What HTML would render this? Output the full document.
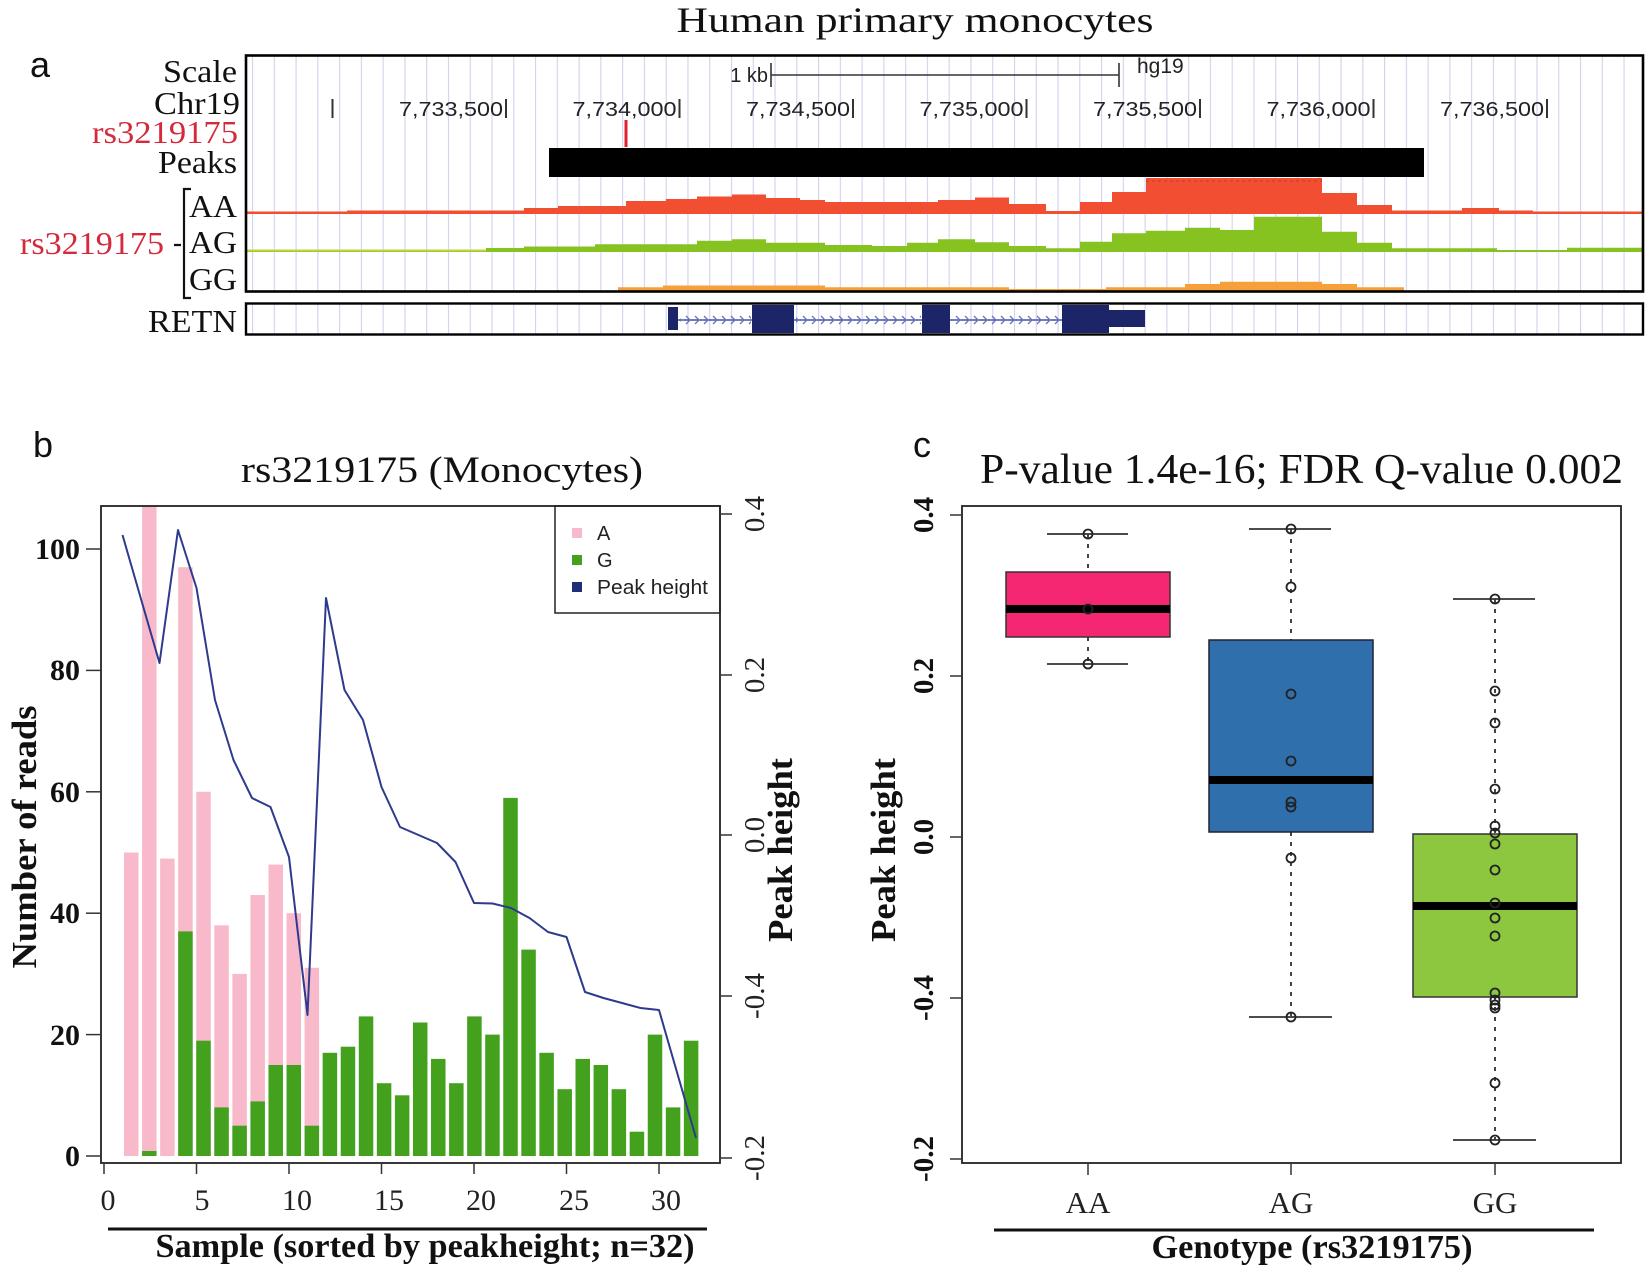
<!DOCTYPE html>
<html><head><meta charset="utf-8"><style>
html,body{margin:0;padding:0;background:#fff;}
svg{display:block;}
.serif{font-family:"Liberation Serif","Times New Roman",serif;}
.sans{font-family:"Liberation Sans",Arial,sans-serif;}
</style></head><body>
<svg width="1650" height="1277" viewBox="0 0 1650 1277" xmlns="http://www.w3.org/2000/svg">
<defs>
<pattern id="grid" patternUnits="userSpaceOnUse" x="252" y="0" width="21.77" height="20">
<rect x="0" y="0" width="1.1" height="20" fill="#cfd3ee"/>
</pattern>
<pattern id="chev" patternUnits="userSpaceOnUse" x="0" y="314" width="9" height="12">
<path d="M2,2 L6,6 L2,10" fill="none" stroke="#6574c0" stroke-width="1.3"/>
</pattern>
<clipPath id="bclip"><rect x="101" y="506" width="619" height="657"/></clipPath>
</defs>
<rect width="1650" height="1277" fill="#fff"/>

<!-- ============ PANEL A ============ -->
<text x="915" y="32" class="serif" font-size="36" text-anchor="middle" textLength="477" lengthAdjust="spacingAndGlyphs" fill="#111">Human primary monocytes</text>
<text x="30" y="77" class="sans" font-size="36" fill="#111">a</text>

<g class="serif" font-size="32" fill="#111">
<text x="163" y="82" textLength="74" lengthAdjust="spacingAndGlyphs">Scale</text>
<text x="154" y="114" textLength="86" lengthAdjust="spacingAndGlyphs">Chr19</text>
<text x="92" y="143" fill="#d42a3c" textLength="146" lengthAdjust="spacingAndGlyphs">rs3219175</text>
<text x="158" y="173" textLength="79" lengthAdjust="spacingAndGlyphs">Peaks</text>
<text x="189" y="217" textLength="48" lengthAdjust="spacingAndGlyphs">AA</text>
<text x="189" y="253" textLength="48" lengthAdjust="spacingAndGlyphs">AG</text>
<text x="189" y="290" textLength="48" lengthAdjust="spacingAndGlyphs">GG</text>
<text x="148" y="332" textLength="89" lengthAdjust="spacingAndGlyphs">RETN</text>
<text x="20" y="254" fill="#d42a3c" textLength="144" lengthAdjust="spacingAndGlyphs">rs3219175</text>
</g>
<path d="M174,245 H181 M191,189 H184 V298 H191" fill="none" stroke="#111" stroke-width="2.2"/>

<!-- grid -->
<rect x="246" y="56" width="1397" height="235" fill="url(#grid)"/>
<rect x="246" y="304" width="1397" height="30" fill="url(#grid)"/>

<!-- scale bar -->
<g stroke="#333" stroke-width="1.6">
<line x1="771" y1="75" x2="1119" y2="75"/>
<line x1="771" y1="63" x2="771" y2="87"/>
<line x1="1119" y1="63" x2="1119" y2="87"/>
</g>
<text x="768" y="82" class="sans" font-size="20" text-anchor="end" fill="#222">1 kb</text>
<text x="1137" y="73" class="sans" font-size="21" fill="#222">hg19</text>

<!-- coordinate ticks -->
<g stroke="#333" stroke-width="2">
<line x1="332.5" y1="99" x2="332.5" y2="118"/>
<line x1="506" y1="99" x2="506" y2="118"/>
<line x1="679.5" y1="99" x2="679.5" y2="118"/>
<line x1="853" y1="99" x2="853" y2="118"/>
<line x1="1026.5" y1="99" x2="1026.5" y2="118"/>
<line x1="1200" y1="99" x2="1200" y2="118"/>
<line x1="1373.5" y1="99" x2="1373.5" y2="118"/>
<line x1="1547" y1="99" x2="1547" y2="118"/>
</g>
<g class="sans" font-size="20" text-anchor="end" fill="#222">
<text x="503" y="116" textLength="104" lengthAdjust="spacingAndGlyphs">7,733,500</text>
<text x="676.5" y="116" textLength="104" lengthAdjust="spacingAndGlyphs">7,734,000</text>
<text x="850" y="116" textLength="104" lengthAdjust="spacingAndGlyphs">7,734,500</text>
<text x="1023.5" y="116" textLength="104" lengthAdjust="spacingAndGlyphs">7,735,000</text>
<text x="1197" y="116" textLength="104" lengthAdjust="spacingAndGlyphs">7,735,500</text>
<text x="1370.5" y="116" textLength="104" lengthAdjust="spacingAndGlyphs">7,736,000</text>
<text x="1544" y="116" textLength="104" lengthAdjust="spacingAndGlyphs">7,736,500</text>
</g>

<!-- SNP tick -->
<rect x="624.5" y="120" width="3" height="27" fill="#e0202e"/>
<!-- Peaks bar -->
<rect x="549" y="148" width="875" height="29" fill="#000"/>

<!-- AA track -->
<path d="M245,214 V211.5 H347 V210.5 H524 V208 H558 V206 H626 V201 H666 V199 H697 V196.5 H732 V194.5 H766 V198 H800 V200 H825 V202 H938 V200 H975 V197.5 H1009 V204 H1046 V211 H1080 V202 H1112 V192 H1146 V178 H1322 V193 H1357 V205 H1392 V210.5 H1462 V208 H1499 V210.5 H1533 V211.5 H1643 V214 Z" fill="#f24e31"/>
<line x1="1146" y1="181" x2="1322" y2="181" stroke="#c93a25" stroke-width="1" stroke-dasharray="3,3"/>
<!-- AG track -->
<path d="M245,252 V249.5 H486 V248 H524 V246.5 H595 V244.3 H697 V240.7 H732 V239.3 H766 V242.7 H825 V245 H872 V246 H907 V242.7 H938 V239.3 H975 V242.3 H1009 V246 H1046 V248.3 H1080 V241.7 H1112 V233.3 H1146 V230.7 H1185 V227.7 H1220 V230 H1254 V216.7 H1322 V231.7 H1357 V242.7 H1392 V248.3 H1497 V250 H1567 V247.7 H1643 V252 Z" fill="#86c320"/>
<rect x="245" y="249.5" width="241" height="2" fill="#bcd640"/>
<!-- GG track -->
<path d="M618,290.5 V287.3 H663 V285.5 H825 V287.3 H1009 V289 H1106 V287.3 H1185 V284 H1220 V281.7 H1322 V284 H1357 V287.3 H1404 V290.5 Z" fill="#f6a03c"/>

<!-- box borders -->
<rect x="246" y="55.5" width="1397" height="236" fill="none" stroke="#000" stroke-width="2.6"/>
<rect x="246" y="303.5" width="1397" height="31" fill="none" stroke="#000" stroke-width="2.4"/>

<!-- RETN gene -->
<line x1="670" y1="320" x2="1145" y2="320" stroke="#4452a0" stroke-width="1.4"/>
<rect x="680" y="314" width="71" height="12" fill="url(#chev)"/>
<rect x="796" y="314" width="125" height="12" fill="url(#chev)"/>
<rect x="952" y="314" width="109" height="12" fill="url(#chev)"/>
<g fill="#1b2568">
<rect x="668" y="307" width="10" height="23"/>
<rect x="752" y="305" width="42" height="28"/>
<rect x="922" y="305" width="28" height="28"/>
<rect x="1062" y="305" width="47" height="28"/>
<rect x="1109" y="310" width="36" height="17"/>
</g>

<!-- ============ PANEL B ============ -->
<text x="33" y="457" class="sans" font-size="36" fill="#111">b</text>
<text x="241" y="482" class="serif" font-size="37" textLength="402" lengthAdjust="spacingAndGlyphs" fill="#111">rs3219175 (Monocytes)</text>

<g clip-path="url(#bclip)">
<g fill="#f8bacb">
<rect x="124" y="852.5" width="14.5" height="303.5"/>
<rect x="142.06" y="500" width="14.5" height="656"/>
<rect x="160.12" y="858.6" width="14.5" height="297.4"/>
<rect x="178.18" y="567.2" width="14.5" height="588.8"/>
<rect x="196.24" y="791.8" width="14.5" height="364.2"/>
<rect x="214.3" y="925.3" width="14.5" height="230.7"/>
<rect x="232.36" y="973.9" width="14.5" height="182.1"/>
<rect x="250.42" y="895" width="14.5" height="261"/>
<rect x="268.48" y="864.6" width="14.5" height="291.4"/>
<rect x="286.54" y="913.2" width="14.5" height="242.8"/>
<rect x="304.6" y="967.8" width="14.5" height="188.2"/>
</g>
<g fill="#43a11e">
<rect x="142.06" y="1151" width="14.5" height="5"/>
<rect x="178.18" y="931.4" width="14.5" height="224.6"/>
<rect x="196.24" y="1040.7" width="14.5" height="115.3"/>
<rect x="214.3" y="1107.4" width="14.5" height="48.6"/>
<rect x="232.36" y="1125.7" width="14.5" height="30.3"/>
<rect x="250.42" y="1101.4" width="14.5" height="54.6"/>
<rect x="268.48" y="1065" width="14.5" height="91"/>
<rect x="286.54" y="1065" width="14.5" height="91"/>
<rect x="304.6" y="1125.7" width="14.5" height="30.3"/>
<rect x="322.66" y="1052.8" width="14.5" height="103.2"/>
<rect x="340.72" y="1046.7" width="14.5" height="109.3"/>
<rect x="358.78" y="1016.4" width="14.5" height="139.6"/>
<rect x="376.84" y="1083.2" width="14.5" height="72.8"/>
<rect x="394.9" y="1095.3" width="14.5" height="60.7"/>
<rect x="412.96" y="1022.5" width="14.5" height="133.5"/>
<rect x="431.02" y="1058.9" width="14.5" height="97.1"/>
<rect x="449.08" y="1083.2" width="14.5" height="72.8"/>
<rect x="467.14" y="1016.4" width="14.5" height="139.6"/>
<rect x="485.2" y="1034.6" width="14.5" height="121.4"/>
<rect x="503.26" y="797.9" width="14.5" height="358.1"/>
<rect x="521.32" y="949.6" width="14.5" height="206.4"/>
<rect x="539.38" y="1052.8" width="14.5" height="103.2"/>
<rect x="557.44" y="1089.2" width="14.5" height="66.8"/>
<rect x="575.5" y="1058.9" width="14.5" height="97.1"/>
<rect x="593.56" y="1065" width="14.5" height="91"/>
<rect x="611.62" y="1089.2" width="14.5" height="66.8"/>
<rect x="629.68" y="1131.7" width="14.5" height="24.3"/>
<rect x="647.74" y="1034.6" width="14.5" height="121.4"/>
<rect x="665.8" y="1107.4" width="14.5" height="48.6"/>
<rect x="683.86" y="1040.7" width="14.5" height="115.3"/>
</g>
<polyline fill="none" stroke="#2e3a8c" stroke-width="2" stroke-linejoin="round" points="122.5,535 141,599 159.5,663 178,530 196.5,588 215,700 233.5,760 252,798 270.5,807 289,857 307.5,1015 326,598 344.5,690 363,720 381.5,787 400,827 418.5,835 437,843 455.5,862 474,903 492.5,903.5 511,908 529.5,918 548,932 566.5,937 585,992 603.5,998 622,1003 640.5,1008 659,1010 677.5,1074 696,1138"/>
</g>

<!-- legend -->
<rect x="555" y="506" width="165" height="107" fill="#fff" stroke="#222" stroke-width="1.5"/>
<rect x="572" y="528" width="10" height="10" fill="#f8bacb"/>
<rect x="572" y="555" width="10" height="10" fill="#43a11e"/>
<rect x="572" y="582" width="10" height="10" fill="#1e2f7a"/>
<g class="sans" font-size="20" fill="#222">
<text x="597" y="540">A</text>
<text x="597" y="567">G</text>
<text x="597" y="594" textLength="111" lengthAdjust="spacingAndGlyphs">Peak height</text>
</g>

<!-- b frame -->
<rect x="101" y="506" width="619" height="657" fill="none" stroke="#222" stroke-width="1.8"/>
<!-- left axis -->
<g stroke="#333" stroke-width="1.5">
<line x1="86" y1="1156" x2="101" y2="1156"/>
<line x1="86" y1="1034.6" x2="101" y2="1034.6"/>
<line x1="86" y1="913.2" x2="101" y2="913.2"/>
<line x1="86" y1="791.8" x2="101" y2="791.8"/>
<line x1="86" y1="670.4" x2="101" y2="670.4"/>
<line x1="86" y1="549" x2="101" y2="549"/>
</g>
<g class="serif" font-size="30" font-weight="bold" text-anchor="end" fill="#111">
<text x="80" y="1166">0</text>
<text x="80" y="1045">20</text>
<text x="80" y="923">40</text>
<text x="80" y="802">60</text>
<text x="80" y="680">80</text>
<text x="80" y="559">100</text>
</g>
<text transform="translate(36,837) rotate(-90)" class="serif" font-size="35" font-weight="bold" text-anchor="middle" fill="#111" textLength="263" lengthAdjust="spacingAndGlyphs">Number of reads</text>
<!-- bottom axis -->
<g stroke="#333" stroke-width="1.5">
<line x1="104" y1="1163" x2="104" y2="1174"/>
<line x1="196.5" y1="1163" x2="196.5" y2="1174"/>
<line x1="289" y1="1163" x2="289" y2="1174"/>
<line x1="381.5" y1="1163" x2="381.5" y2="1174"/>
<line x1="474" y1="1163" x2="474" y2="1174"/>
<line x1="566.5" y1="1163" x2="566.5" y2="1174"/>
<line x1="659" y1="1163" x2="659" y2="1174"/>
</g>
<g class="serif" font-size="30" text-anchor="middle" fill="#222">
<text x="108" y="1210">0</text>
<text x="202" y="1210">5</text>
<text x="297" y="1210">10</text>
<text x="389" y="1210">15</text>
<text x="481" y="1210">20</text>
<text x="574" y="1210">25</text>
<text x="666" y="1210">30</text>
</g>
<line x1="108" y1="1229" x2="707" y2="1229" stroke="#111" stroke-width="3"/>
<text x="425" y="1257" class="serif" font-size="34" font-weight="bold" text-anchor="middle" fill="#111" textLength="539" lengthAdjust="spacingAndGlyphs">Sample (sorted by peakheight; n=32)</text>
<!-- right axis -->
<g stroke="#333" stroke-width="1.5">
<line x1="720" y1="514" x2="732" y2="514"/>
<line x1="720" y1="675" x2="732" y2="675"/>
<line x1="720" y1="835" x2="732" y2="835"/>
<line x1="720" y1="996" x2="732" y2="996"/>
<line x1="720" y1="1158" x2="732" y2="1158"/>
</g>
<g class="serif" font-size="29" text-anchor="middle" fill="#222">
<text transform="translate(764,514) rotate(-90)">0.4</text>
<text transform="translate(764,675) rotate(-90)">0.2</text>
<text transform="translate(764,835) rotate(-90)">0.0</text>
<text transform="translate(764,996) rotate(-90)">-0.4</text>
<text transform="translate(764,1158) rotate(-90)">-0.2</text>
</g>
<text transform="translate(792,850) rotate(-90)" class="serif" font-size="35" font-weight="bold" text-anchor="middle" fill="#111" textLength="184" lengthAdjust="spacingAndGlyphs">Peak height</text>

<!-- ============ PANEL C ============ -->
<text x="913" y="457" class="sans" font-size="36" fill="#111">c</text>
<text x="980" y="483" class="serif" font-size="42" textLength="643" lengthAdjust="spacingAndGlyphs" fill="#111">P-value 1.4e-16; FDR Q-value 0.002</text>

<!-- whiskers -->
<g stroke="#444" stroke-width="2" stroke-dasharray="4,6">
<line x1="1088" y1="534" x2="1088" y2="572"/>
<line x1="1088" y1="637" x2="1088" y2="664"/>
<line x1="1291" y1="529" x2="1291" y2="640"/>
<line x1="1291" y1="832" x2="1291" y2="1017"/>
<line x1="1495" y1="599" x2="1495" y2="834"/>
<line x1="1495" y1="997" x2="1495" y2="1140"/>
</g>
<g stroke="#333" stroke-width="1.8">
<line x1="1047" y1="534" x2="1128" y2="534"/>
<line x1="1047" y1="664" x2="1128" y2="664"/>
<line x1="1249" y1="529" x2="1331" y2="529"/>
<line x1="1249" y1="1017" x2="1332" y2="1017"/>
<line x1="1453" y1="599" x2="1535" y2="599"/>
<line x1="1453" y1="1140" x2="1536" y2="1140"/>
</g>
<!-- boxes -->
<rect x="1006" y="572" width="164" height="65" fill="#f52672" stroke="#333" stroke-width="1.5"/>
<rect x="1209" y="640" width="164" height="192" fill="#2f6fac" stroke="#223" stroke-width="1.5"/>
<rect x="1413" y="834" width="164" height="163" fill="#8dc63f" stroke="#333" stroke-width="1.5"/>
<g fill="#000">
<rect x="1006" y="605" width="164" height="8"/>
<rect x="1209" y="776" width="164" height="8"/>
<rect x="1413" y="902" width="164" height="8"/>
</g>
<!-- points -->
<g fill="none" stroke="#222" stroke-width="1.8">
<circle cx="1088" cy="534" r="4.5"/><circle cx="1088" cy="609" r="4.5"/><circle cx="1088" cy="664" r="4.5"/>
<circle cx="1291" cy="529" r="4.5"/><circle cx="1291" cy="587" r="4.5"/><circle cx="1291" cy="694" r="4.5"/><circle cx="1291" cy="761" r="4.5"/><circle cx="1291" cy="802" r="4.5"/><circle cx="1291" cy="807" r="4.5"/><circle cx="1291" cy="858" r="4.5"/><circle cx="1291" cy="1017" r="4.5"/>
<circle cx="1495" cy="599" r="4.5"/><circle cx="1495" cy="691" r="4.5"/><circle cx="1495" cy="723" r="4.5"/><circle cx="1495" cy="789" r="4.5"/><circle cx="1495" cy="826" r="4.5"/><circle cx="1495" cy="833" r="4.5"/><circle cx="1495" cy="844" r="4.5"/><circle cx="1495" cy="870" r="4.5"/><circle cx="1495" cy="903" r="4.5"/><circle cx="1495" cy="918" r="4.5"/><circle cx="1495" cy="936" r="4.5"/><circle cx="1495" cy="993" r="4.5"/><circle cx="1495" cy="1000" r="4.5"/><circle cx="1495" cy="1005" r="4.5"/><circle cx="1495" cy="1008" r="4.5"/><circle cx="1495" cy="1083" r="4.5"/><circle cx="1495" cy="1140" r="4.5"/>
</g>
<!-- c frame -->
<rect x="962" y="506" width="659" height="657" fill="none" stroke="#222" stroke-width="1.8"/>
<g stroke="#333" stroke-width="1.5">
<line x1="950" y1="515" x2="962" y2="515"/>
<line x1="950" y1="676" x2="962" y2="676"/>
<line x1="950" y1="837" x2="962" y2="837"/>
<line x1="950" y1="998" x2="962" y2="998"/>
<line x1="950" y1="1159" x2="962" y2="1159"/>
<line x1="1088" y1="1163" x2="1088" y2="1175"/>
<line x1="1291" y1="1163" x2="1291" y2="1175"/>
<line x1="1495" y1="1163" x2="1495" y2="1175"/>
</g>
<g class="serif" font-size="29" font-weight="bold" text-anchor="middle" fill="#111">
<text transform="translate(933,515) rotate(-90)">0.4</text>
<text transform="translate(933,676) rotate(-90)">0.2</text>
<text transform="translate(933,837) rotate(-90)">0.0</text>
<text transform="translate(933,998) rotate(-90)">-0.4</text>
<text transform="translate(933,1159) rotate(-90)">-0.2</text>
</g>
<text transform="translate(895,850) rotate(-90)" class="serif" font-size="35" font-weight="bold" text-anchor="middle" fill="#111" textLength="184" lengthAdjust="spacingAndGlyphs">Peak height</text>
<g class="serif" font-size="31" text-anchor="middle" fill="#222">
<text x="1088" y="1213">AA</text>
<text x="1291" y="1213">AG</text>
<text x="1495" y="1213">GG</text>
</g>
<line x1="994" y1="1230" x2="1594" y2="1230" stroke="#111" stroke-width="3"/>
<text x="1312" y="1258" class="serif" font-size="34" font-weight="bold" text-anchor="middle" fill="#111" textLength="321" lengthAdjust="spacingAndGlyphs">Genotype (rs3219175)</text>
</svg>
</body></html>
